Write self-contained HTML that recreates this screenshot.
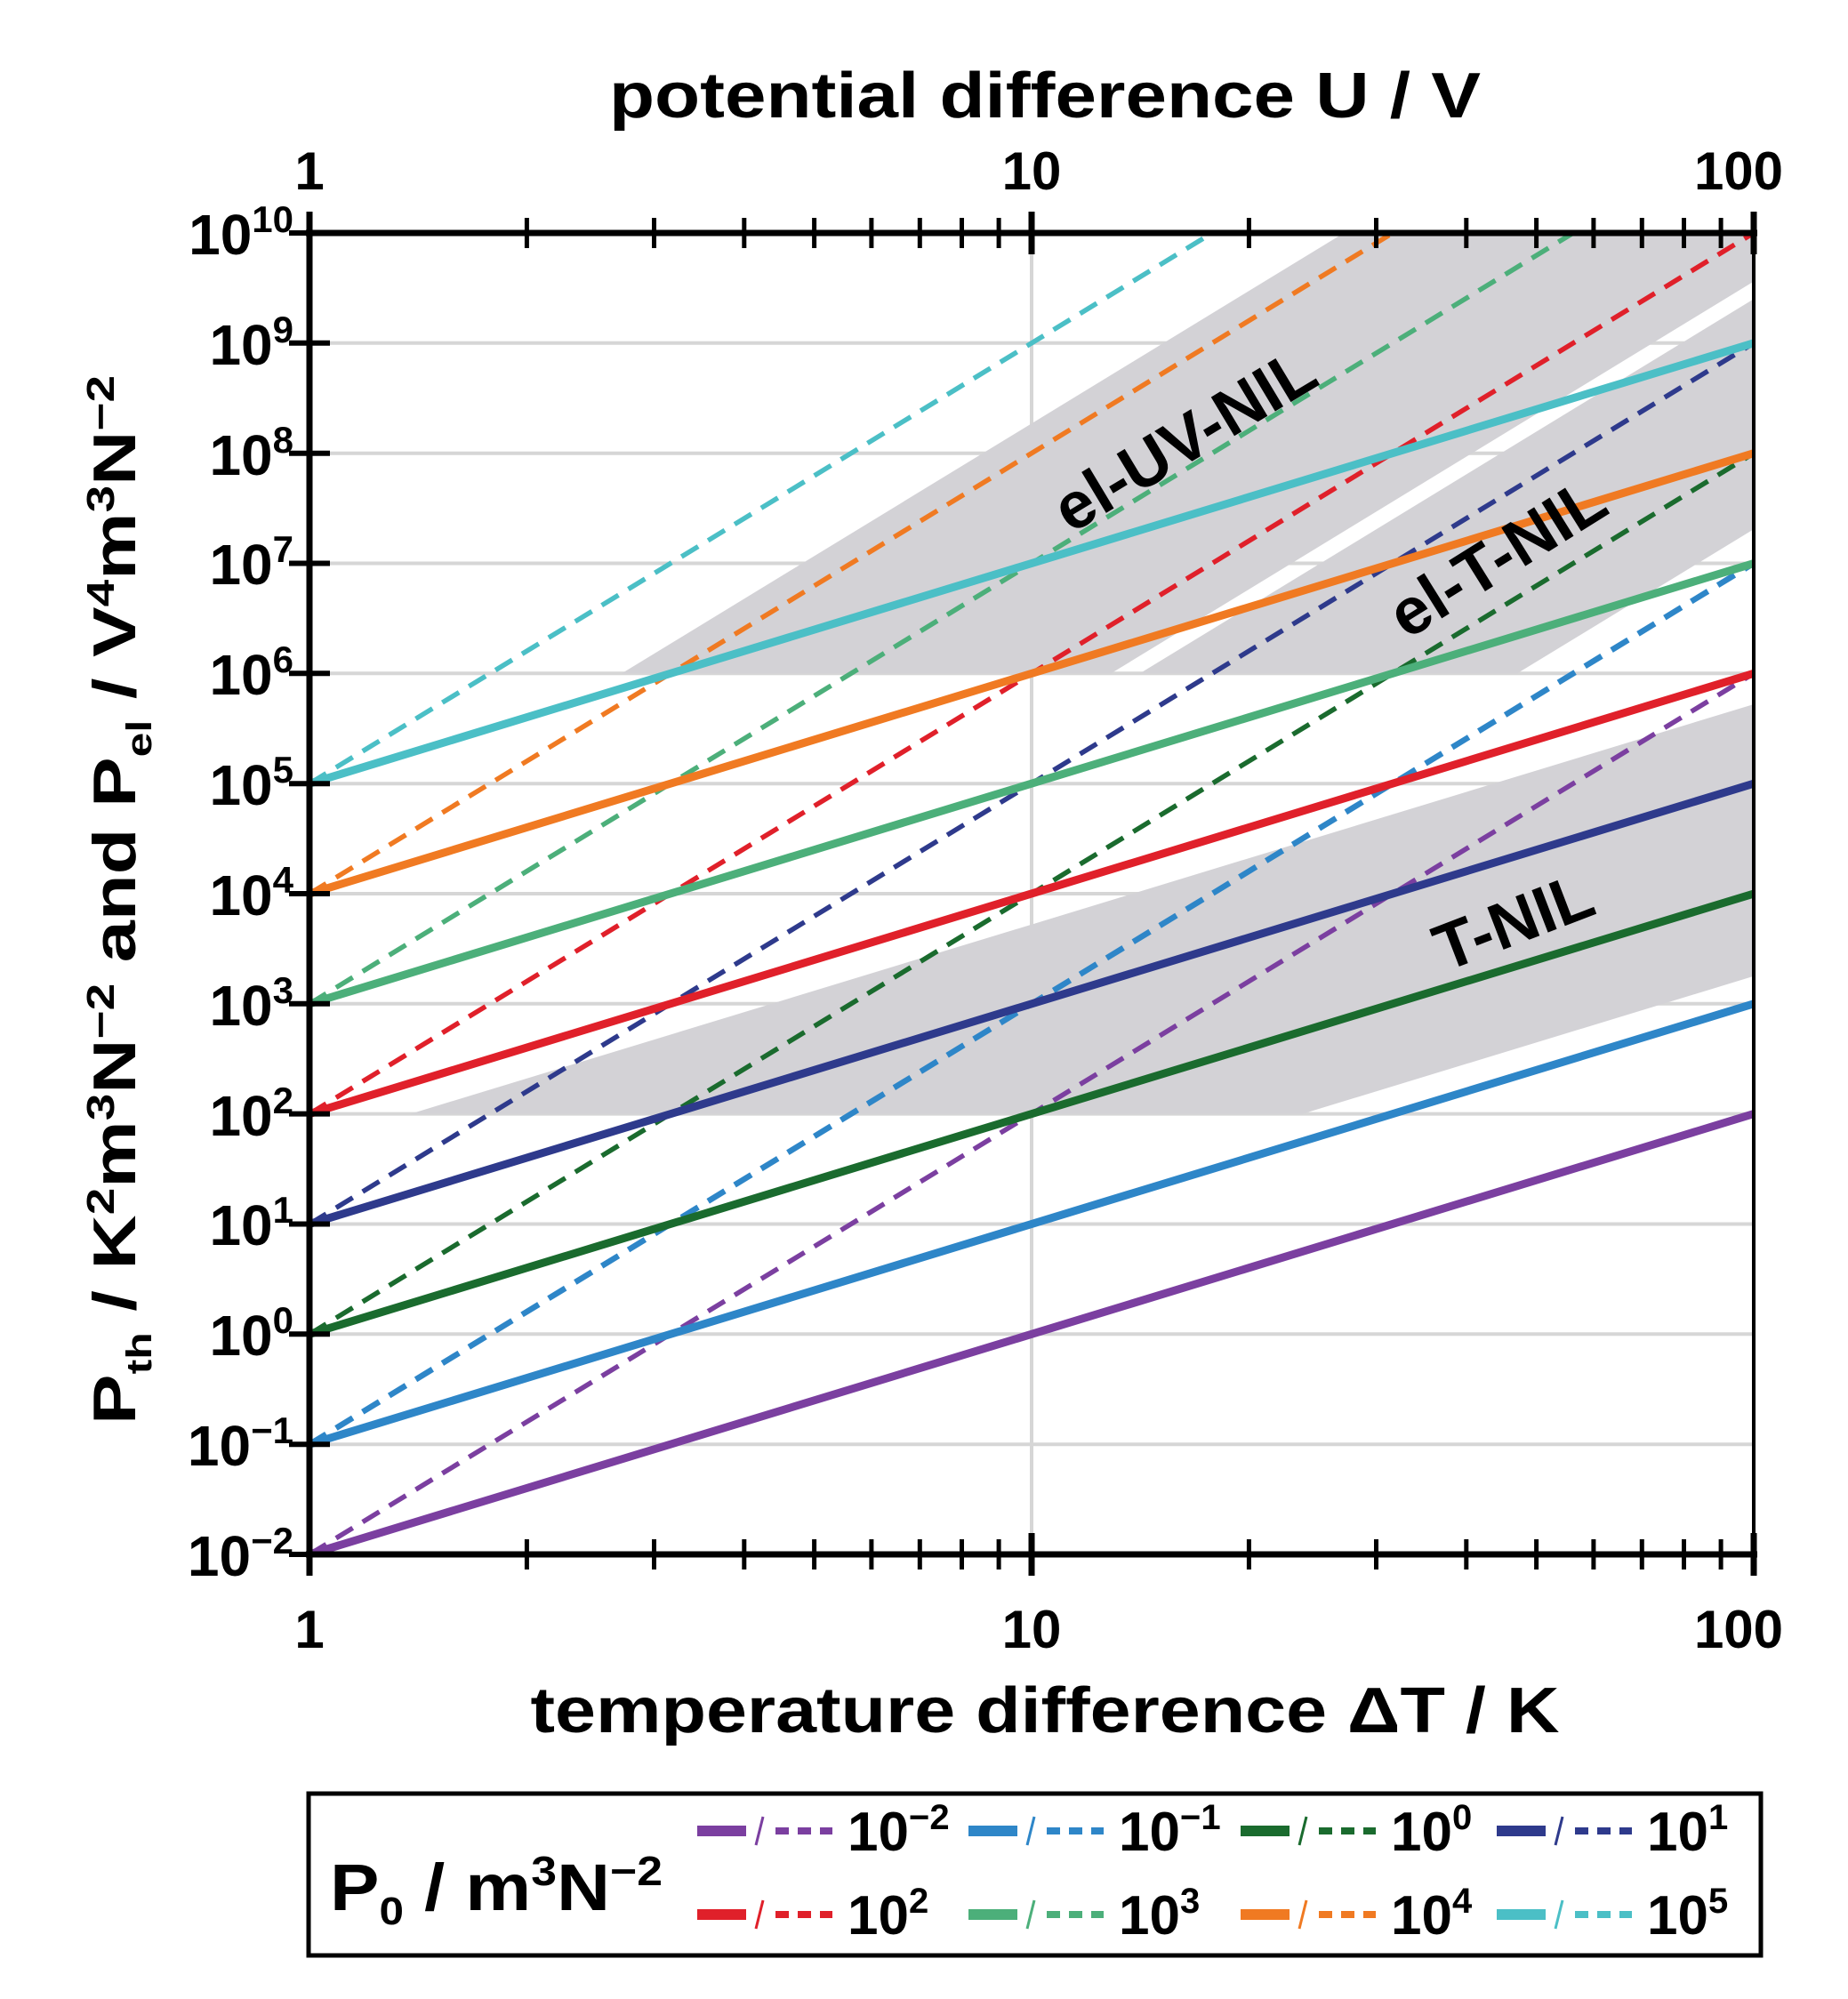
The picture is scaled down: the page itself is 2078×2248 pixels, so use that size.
<!DOCTYPE html>
<html><head><meta charset="utf-8"><style>
html,body{margin:0;padding:0;background:#fff;}
svg{display:block;font-family:"Liberation Sans",sans-serif;font-weight:bold;}
</style></head><body>
<svg width="2078" height="2248" viewBox="0 0 2078 2248" xmlns="http://www.w3.org/2000/svg">
<defs><clipPath id="pc"><rect x="348" y="262" width="1624" height="1486"/></clipPath></defs>
<g stroke="#d6d6d6" stroke-width="4">
<line x1="348" y1="385.8" x2="1972" y2="385.8"/><line x1="348" y1="509.7" x2="1972" y2="509.7"/>
<line x1="348" y1="633.5" x2="1972" y2="633.5"/><line x1="348" y1="757.3" x2="1972" y2="757.3"/>
<line x1="348" y1="881.2" x2="1972" y2="881.2"/><line x1="348" y1="1005" x2="1972" y2="1005"/>
<line x1="348" y1="1128.8" x2="1972" y2="1128.8"/><line x1="348" y1="1252.6" x2="1972" y2="1252.6"/>
<line x1="348" y1="1376.5" x2="1972" y2="1376.5"/><line x1="348" y1="1500.3" x2="1972" y2="1500.3"/>
<line x1="348" y1="1624.2" x2="1972" y2="1624.2"/><line x1="1160" y1="262" x2="1160" y2="1748"/>
</g>
<g fill="#d3d2d6" clip-path="url(#pc)">
<polygon points="699.2,757.3 1511.2,262 1972,262 1972,316.5 1249.3,757.3"/>
<polygon points="1281.8,757.3 1972,336.3 1972,595.1 1706.1,757.3"/>
<polygon points="461.7,1252.6 1972,792 1972,1097.8 1464.5,1252.6"/>
</g>
<g clip-path="url(#pc)" stroke-width="5.5" stroke-dasharray="22 13" fill="none">
<line x1="348" y1="1748" x2="1972" y2="757.3" stroke="#7b3fa0"/>
<line x1="348" y1="1624.2" x2="1972" y2="633.5" stroke="#2e86c8" stroke-width="6.5"/>
<line x1="348" y1="1500.3" x2="1972" y2="509.7" stroke="#1a6b2e"/>
<line x1="348" y1="1376.5" x2="1972" y2="385.8" stroke="#2e3a8c"/>
<line x1="348" y1="1252.6" x2="1972" y2="262" stroke="#e0202a"/>
<line x1="348" y1="1128.8" x2="1769" y2="262" stroke="#4caf7a"/>
<line x1="348" y1="1005" x2="1566" y2="262" stroke="#f07a22"/>
<line x1="348" y1="881.2" x2="1363" y2="262" stroke="#4bbfc6"/>
</g>
<g clip-path="url(#pc)" stroke-width="9" fill="none">
<line x1="348" y1="1748" x2="1972" y2="1252.6" stroke="#7b3fa0"/>
<line x1="348" y1="1624.2" x2="1972" y2="1128.8" stroke="#2e86c8"/>
<line x1="348" y1="1500.3" x2="1972" y2="1005" stroke="#1a6b2e"/>
<line x1="348" y1="1376.5" x2="1972" y2="881.2" stroke="#2e3a8c"/>
<line x1="348" y1="1252.6" x2="1972" y2="757.3" stroke="#e0202a"/>
<line x1="348" y1="1128.8" x2="1972" y2="633.5" stroke="#4caf7a"/>
<line x1="348" y1="1005" x2="1972" y2="509.7" stroke="#f07a22"/>
<line x1="348" y1="881.2" x2="1972" y2="385.8" stroke="#4bbfc6"/>
</g>
<g font-size="74" fill="#000" text-anchor="middle">
<text transform="translate(1345,516) rotate(-31)">el-UV-NIL</text>
<text transform="translate(1697,648) rotate(-32)">el-T-NIL</text>
<text transform="translate(1711,1060) rotate(-21)">T-NIL</text>
</g>
<g stroke="#000" fill="none">
<rect x="348" y="262" width="1624" height="1486" stroke-width="4"/>
<line x1="344" y1="262" x2="1976" y2="262" stroke-width="7"/>
<line x1="344" y1="1748" x2="1976" y2="1748" stroke-width="7"/>
<line x1="348" y1="258" x2="348" y2="1752" stroke-width="7"/>
</g>
<g stroke="#000" stroke-width="5">
<path d="M592.4,245V279M735.5,245V279M836.8,245V279M915.6,245V279M979.9,245V279M1034.3,245V279M1081.5,245V279M1123.1,245V279M1404.4,245V279M1547.5,245V279M1648.8,245V279M1727.6,245V279M1791.9,245V279M1846.3,245V279M1893.5,245V279M1935.1,245V279"/>
<path d="M592.4,1731V1765M735.5,1731V1765M836.8,1731V1765M915.6,1731V1765M979.9,1731V1765M1034.3,1731V1765M1081.5,1731V1765M1123.1,1731V1765M1404.4,1731V1765M1547.5,1731V1765M1648.8,1731V1765M1727.6,1731V1765M1791.9,1731V1765M1846.3,1731V1765M1893.5,1731V1765M1935.1,1731V1765"/>
<path d="M1160,238V286M1160,1724V1772M348,238V286M348,1724V1772M1972,238V286M1972,1724V1772" stroke-width="7"/>
<path d="M325,262H371M325,385.8H371M325,509.7H371M325,633.5H371M325,757.3H371M325,881.2H371M325,1005H371M325,1128.8H371M325,1252.6H371M325,1376.5H371M325,1500.3H371M325,1624.2H371M325,1748H371" stroke-width="6"/>
</g>
<g font-size="60" text-anchor="middle" fill="#000">
<text x="348" y="213">1</text><text x="1160" y="213">10</text><text x="1955" y="213">100</text>
<text x="348" y="1853">1</text><text x="1160" y="1853">10</text><text x="1955" y="1853">100</text>
</g>
<text x="1175" y="132" font-size="72" text-anchor="middle" textLength="980" lengthAdjust="spacingAndGlyphs">potential difference U / V</text>
<text x="1175" y="1948" font-size="72" text-anchor="middle" textLength="1157" lengthAdjust="spacingAndGlyphs">temperature difference ΔT / K</text>
<g font-size="64" text-anchor="end" fill="#000">
<text x="330" y="286">10<tspan font-size="42" dy="-25">10</tspan></text>
<text x="330" y="410">10<tspan font-size="42" dy="-25">9</tspan></text>
<text x="330" y="534">10<tspan font-size="42" dy="-25">8</tspan></text>
<text x="330" y="657">10<tspan font-size="42" dy="-25">7</tspan></text>
<text x="330" y="781">10<tspan font-size="42" dy="-25">6</tspan></text>
<text x="330" y="905">10<tspan font-size="42" dy="-25">5</tspan></text>
<text x="330" y="1029">10<tspan font-size="42" dy="-25">4</tspan></text>
<text x="330" y="1153">10<tspan font-size="42" dy="-25">3</tspan></text>
<text x="330" y="1277">10<tspan font-size="42" dy="-25">2</tspan></text>
<text x="330" y="1400">10<tspan font-size="42" dy="-25">1</tspan></text>
<text x="330" y="1524">10<tspan font-size="42" dy="-25">0</tspan></text>
<text x="330" y="1648">10<tspan font-size="42" dy="-25">−1</tspan></text>
<text x="330" y="1772">10<tspan font-size="42" dy="-25">−2</tspan></text>
</g>
<text transform="translate(152,1012) rotate(-90)" font-size="68" text-anchor="middle" textLength="1180" lengthAdjust="spacingAndGlyphs">P<tspan font-size="40" dy="18">th</tspan><tspan dy="-18"> / K</tspan><tspan font-size="44" dy="-24">2</tspan><tspan dy="24">m</tspan><tspan font-size="44" dy="-24">3</tspan><tspan dy="24">N</tspan><tspan font-size="44" dy="-24">−2</tspan><tspan dy="24">  and  P</tspan><tspan font-size="40" dy="18">el</tspan><tspan dy="-18"> / V</tspan><tspan font-size="44" dy="-24">4</tspan><tspan dy="24">m</tspan><tspan font-size="44" dy="-24">3</tspan><tspan dy="24">N</tspan><tspan font-size="44" dy="-24">−2</tspan></text>
<rect x="347" y="2017" width="1633" height="182" fill="none" stroke="#000" stroke-width="5"/>
<text x="371" y="2148" font-size="74" textLength="374" lengthAdjust="spacingAndGlyphs">P<tspan font-size="44" dy="16">0</tspan><tspan dy="-16"> / m</tspan><tspan font-size="46" dy="-28">3</tspan><tspan dy="28">N</tspan><tspan font-size="46" dy="-28">−2</tspan></text>
<g>
<g transform="translate(784,2059)"><line x1="0" y1="0" x2="55" y2="0" stroke="#7b3fa0" stroke-width="12"/><line x1="66" y1="16" x2="74" y2="-16" stroke="#7b3fa0" stroke-width="3"/><line x1="88" y1="0" x2="152" y2="0" stroke="#7b3fa0" stroke-width="8" stroke-dasharray="15 10"/></g>
<g transform="translate(1089,2059)"><line x1="0" y1="0" x2="55" y2="0" stroke="#2e86c8" stroke-width="12"/><line x1="66" y1="16" x2="74" y2="-16" stroke="#2e86c8" stroke-width="3"/><line x1="88" y1="0" x2="152" y2="0" stroke="#2e86c8" stroke-width="8" stroke-dasharray="15 10"/></g>
<g transform="translate(1395,2059)"><line x1="0" y1="0" x2="55" y2="0" stroke="#1a6b2e" stroke-width="12"/><line x1="66" y1="16" x2="74" y2="-16" stroke="#1a6b2e" stroke-width="3"/><line x1="88" y1="0" x2="152" y2="0" stroke="#1a6b2e" stroke-width="8" stroke-dasharray="15 10"/></g>
<g transform="translate(1683,2059)"><line x1="0" y1="0" x2="55" y2="0" stroke="#2e3a8c" stroke-width="12"/><line x1="66" y1="16" x2="74" y2="-16" stroke="#2e3a8c" stroke-width="3"/><line x1="88" y1="0" x2="152" y2="0" stroke="#2e3a8c" stroke-width="8" stroke-dasharray="15 10"/></g>
<g transform="translate(784,2153)"><line x1="0" y1="0" x2="55" y2="0" stroke="#e0202a" stroke-width="12"/><line x1="66" y1="16" x2="74" y2="-16" stroke="#e0202a" stroke-width="3"/><line x1="88" y1="0" x2="152" y2="0" stroke="#e0202a" stroke-width="8" stroke-dasharray="15 10"/></g>
<g transform="translate(1089,2153)"><line x1="0" y1="0" x2="55" y2="0" stroke="#4caf7a" stroke-width="12"/><line x1="66" y1="16" x2="74" y2="-16" stroke="#4caf7a" stroke-width="3"/><line x1="88" y1="0" x2="152" y2="0" stroke="#4caf7a" stroke-width="8" stroke-dasharray="15 10"/></g>
<g transform="translate(1395,2153)"><line x1="0" y1="0" x2="55" y2="0" stroke="#f07a22" stroke-width="12"/><line x1="66" y1="16" x2="74" y2="-16" stroke="#f07a22" stroke-width="3"/><line x1="88" y1="0" x2="152" y2="0" stroke="#f07a22" stroke-width="8" stroke-dasharray="15 10"/></g>
<g transform="translate(1683,2153)"><line x1="0" y1="0" x2="55" y2="0" stroke="#4bbfc6" stroke-width="12"/><line x1="66" y1="16" x2="74" y2="-16" stroke="#4bbfc6" stroke-width="3"/><line x1="88" y1="0" x2="152" y2="0" stroke="#4bbfc6" stroke-width="8" stroke-dasharray="15 10"/></g>
</g>
<g font-size="62" fill="#000">
<text x="953" y="2081">10<tspan font-size="40" dy="-24">−2</tspan></text>
<text x="1258" y="2081">10<tspan font-size="40" dy="-24">−1</tspan></text>
<text x="1564" y="2081">10<tspan font-size="40" dy="-24">0</tspan></text>
<text x="1852" y="2081">10<tspan font-size="40" dy="-24">1</tspan></text>
<text x="953" y="2175">10<tspan font-size="40" dy="-24">2</tspan></text>
<text x="1258" y="2175">10<tspan font-size="40" dy="-24">3</tspan></text>
<text x="1564" y="2175">10<tspan font-size="40" dy="-24">4</tspan></text>
<text x="1852" y="2175">10<tspan font-size="40" dy="-24">5</tspan></text>
</g>
</svg>
</body></html>
